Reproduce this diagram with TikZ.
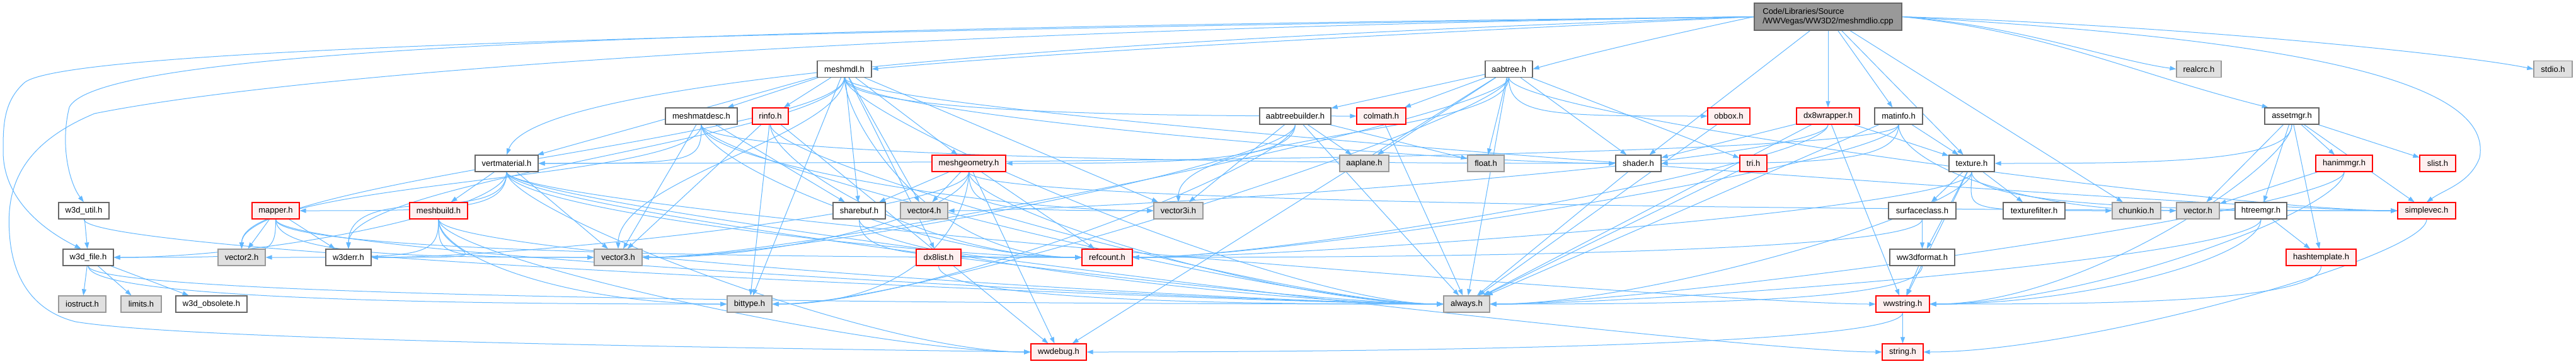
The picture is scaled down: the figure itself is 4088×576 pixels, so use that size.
\documentclass[tikz,border=0pt]{standalone}
\usepackage{fontspec}
\setmainfont{Liberation Sans}
\usetikzlibrary{arrows.meta}
\definecolor{edgec}{HTML}{63B8FF}
\definecolor{wb}{HTML}{666666}
\definecolor{gb}{HTML}{999999}
\definecolor{gf}{HTML}{E0E0E0}
\definecolor{rf}{HTML}{FFF0F0}
\definecolor{rootf}{HTML}{999999}
\pgfdeclarelayer{bg}\pgfsetlayers{bg,main}
\begin{document}
\begin{tikzpicture}[x=1pt,y=-1pt,
 nd/.style={rectangle, draw, minimum height=26pt, inner sep=0pt, line width=1.2pt, font=\fontsize{13}{15}\selectfont, text=black},
 wn/.style={nd, draw=wb, fill=white},
 rn/.style={nd, draw=red, fill=rf},
 gn/.style={nd, draw=gb, fill=gf},
 e/.style={draw=edgec, line width=1pt, -{Triangle[length=10pt,width=7pt]}}]
\useasboundingbox (0,0) rectangle (4088,576);
% root
\node[wn, fill=rootf, minimum width=234pt, minimum height=43pt, align=left] (root) at (2901,26.5) {Code/Libraries/Source\\/WWVegas/WW3D2/meshmdlio.cpp};
% row 1
\node[wn, minimum width=86pt] (meshmdl) at (1340,109.5) {meshmdl.h};
\node[wn, minimum width=75pt] (aabtree) at (2394.5,109.5) {aabtree.h};
\node[gn, minimum width=71pt] (realcrc) at (3489.5,109.5) {realcrc.h};
\node[gn, minimum width=61pt] (stdio) at (4051.5,109.5) {stdio.h};
% row 2
\node[wn, minimum width=114pt] (meshmatdesc) at (1113,184) {meshmatdesc.h};
\node[rn, minimum width=57pt] (rinfo) at (1222.5,184) {rinfo.h};
\node[wn, minimum width=113pt] (aabtreebuilder) at (2055.5,184) {aabtreebuilder.h};
\node[rn, minimum width=78pt] (colmath) at (2192,184) {colmath.h};
\node[rn, minimum width=67pt] (obbox) at (2743.5,184) {obbox.h};
\node[rn, minimum width=100pt] (dx8wrapper) at (2901,184) {dx8wrapper.h};
\node[wn, minimum width=76pt] (matinfo) at (3013,184) {matinfo.h};
\node[wn, minimum width=86pt] (assetmgr) at (3637,184) {assetmgr.h};
% row 3
\node[wn, minimum width=100pt] (vertmaterial) at (804,259) {vertmaterial.h};
\node[rn, minimum width=117pt] (meshgeometry) at (1537.5,259) {meshgeometry.h};
\node[gn, minimum width=78pt] (aaplane) at (2165,259) {aaplane.h};
\node[gn, minimum width=58pt] (float) at (2358,259) {float.h};
\node[wn, minimum width=72pt] (shader) at (2600,259) {shader.h};
\node[rn, minimum width=43pt] (tri) at (2782.5,259) {tri.h};
\node[wn, minimum width=72pt] (texture) at (3129,259) {texture.h};
\node[rn, minimum width=90pt] (hanimmgr) at (3720,259) {hanimmgr.h};
\node[rn, minimum width=57pt] (slist) at (3868.5,259) {slist.h};
% row 4
\node[wn, minimum width=80pt] (w3dutil) at (133,334) {w3d\_util.h};
\node[rn, minimum width=75pt] (mapper) at (437.5,334) {mapper.h};
\node[rn, minimum width=92pt] (meshbuild) at (696,334) {meshbuild.h};
\node[wn, minimum width=83pt] (sharebuf) at (1363.5,334) {sharebuf.h};
\node[gn, minimum width=75pt] (vector4) at (1466.5,334) {vector4.h};
\node[gn, minimum width=78pt] (vector3i) at (1870,334) {vector3i.h};
\node[wn, minimum width=107pt] (surfaceclass) at (3050.5,334) {surfaceclass.h};
\node[wn, minimum width=98pt] (texturefilter) at (3228,334) {texturefilter.h};
\node[gn, minimum width=77pt] (chunkio) at (3390.5,334) {chunkio.h};
\node[gn, minimum width=68pt] (vector) at (3488,334) {vector.h};
\node[wn, minimum width=82pt] (htreemgr) at (3588,334) {htreemgr.h};
\node[rn, minimum width=92pt] (simplevec) at (3851,334) {simplevec.h};
% row 5
\node[wn, minimum width=80pt] (w3dfile) at (140,408) {w3d\_file.h};
\node[gn, minimum width=75pt] (vector2) at (383.5,408) {vector2.h};
\node[wn, minimum width=72pt] (w3derr) at (553,408) {w3derr.h};
\node[gn, minimum width=76pt] (vector3) at (981,408) {vector3.h};
\node[rn, minimum width=71pt] (dx8list) at (1489.5,408) {dx8list.h};
\node[rn, minimum width=80pt] (refcount) at (1757,408) {refcount.h};
\node[wn, minimum width=103pt] (ww3dformat) at (3050.5,408) {ww3dformat.h};
\node[rn, minimum width=111pt] (hashtemplate) at (3683.5,408) {hashtemplate.h};
% row 6
\node[gn, minimum width=75pt] (iostruct) at (130.5,482) {iostruct.h};
\node[gn, minimum width=64pt] (limits) at (224,482) {limits.h};
\node[wn, minimum width=113pt] (w3dobs) at (335.5,482) {w3d\_obsolete.h};
\node[gn, minimum width=71pt] (bittype) at (1189.5,482) {bittype.h};
\node[gn, minimum width=73pt] (always) at (2327.5,482) {always.h};
\node[rn, minimum width=85pt] (wwstring) at (3019.5,482) {wwstring.h};
% row 7
\node[rn, minimum width=88pt] (wwdebug) at (1680,558) {wwdebug.h};
\node[rn, minimum width=65pt] (string) at (3019.5,558) {string.h};

\begin{pgfonlayer}{bg}
\fill[white] (0,0) rectangle (4088,576);
% straight connectors
\foreach \s/\t in {
 root/dx8wrapper, root/matinfo, root/texture, root/shader, root/chunkio,
 meshmdl/meshmatdesc, meshmdl/rinfo, meshmdl/vertmaterial, meshmdl/meshgeometry, meshmdl/sharebuf,
 meshmdl/vector4, meshmdl/vector3i, meshmdl/dx8list, meshmdl/bittype,
 meshmatdesc/sharebuf, meshmatdesc/vector3,
 rinfo/bittype, rinfo/wwdebug, rinfo/vector3,
 vertmaterial/meshbuild, vertmaterial/vector3,
 mapper/vector2, mapper/w3derr,
 w3dutil/w3dfile, w3dfile/iostruct, w3dfile/limits, w3dfile/w3dobs,
 meshgeometry/sharebuf, meshgeometry/vector4, meshgeometry/wwdebug, meshgeometry/refcount,
 colmath/always,
 aabtree/aabtreebuilder, aabtree/colmath, aabtree/aaplane, aabtree/float, aabtree/tri,
 aabtree/shader, aabtree/always, aabtree/wwdebug,
 aabtreebuilder/vector3i, aabtreebuilder/always, aabtreebuilder/aaplane, aabtreebuilder/float,
 obbox/always, tri/always, shader/always,
 dx8wrapper/texture, dx8wrapper/shader, dx8wrapper/wwstring, dx8wrapper/always,
 matinfo/texture, matinfo/always,
 texture/surfaceclass, texture/texturefilter, texture/ww3dformat, texture/wwstring,
 surfaceclass/ww3dformat, ww3dformat/wwstring, wwstring/string,
 assetmgr/vector, assetmgr/htreemgr, assetmgr/hanimmgr, assetmgr/slist,
 assetmgr/simplevec, assetmgr/hashtemplate,
 hanimmgr/vector, htreemgr/hashtemplate}
 \draw[e] (\s) -- (\t);
% target lies far to the right: leave downward, enter from the left side
\foreach \s/\t in {
 meshmdl/colmath, meshmdl/shader, meshmdl/always, meshmdl/simplevec, meshmdl/refcount,
 meshmatdesc/vector3i, meshmatdesc/shader, meshmatdesc/always, meshmatdesc/refcount,
 rinfo/always, rinfo/refcount,
 vertmaterial/refcount, vertmaterial/always, vertmaterial/wwstring, vertmaterial/wwdebug, vertmaterial/string,
 meshbuild/vector3, meshbuild/bittype, meshbuild/always, meshbuild/wwdebug,
 mapper/vector3, mapper/refcount, mapper/always,
 w3dutil/always, w3dfile/always, w3dfile/bittype,
 meshgeometry/always, meshgeometry/simplevec, meshgeometry/vector3i,
 sharebuf/refcount, sharebuf/always, dx8list/always,
 aabtree/obbox, aabtree/simplevec,
 matinfo/vector, texture/chunkio, texture/simplevec}
 \draw[e] (\s.south) .. controls +(0,60) and +(-250,0) .. (\t.west);
% target lies far to the left: leave downward, enter from the right side
\foreach \s/\t in {
 meshmatdesc/vertmaterial,
 vertmaterial/mapper, vertmaterial/w3dfile,
 meshbuild/vector2, meshbuild/w3derr,
 mapper/w3dfile,
 meshgeometry/vector3, meshgeometry/w3derr, meshgeometry/bittype,
 aabtree/vector3, aabtree/bittype,
 aabtreebuilder/vector3, aabtreebuilder/bittype, aabtreebuilder/meshgeometry,
 dx8wrapper/vector4, dx8wrapper/refcount,
 matinfo/shader, matinfo/vertmaterial, matinfo/refcount,
 texture/refcount, texture/always, surfaceclass/refcount, ww3dformat/always,
 wwstring/wwdebug, assetmgr/texture, assetmgr/wwstring,
 hanimmgr/wwstring, hanimmgr/always, htreemgr/wwstring, htreemgr/always,
 hashtemplate/wwstring, simplevec/string}
 \draw[e] (\s.south) .. controls +(0,60) and +(250,0) .. (\t.east);
% curved from above into the top
\foreach \s/\t in {
 meshmdl/vector2, meshmdl/w3derr, meshmdl/vector3,
 meshmatdesc/vector2, vertmaterial/w3derr, aabtree/vector3i}
 \draw[e] (\s.south) .. controls +(0,90) and +(0,-110) .. (\t.north);
% routed edges from the root
\draw[e] (root.west) .. controls (2300,50) and (1700,80) .. (meshmdl.east);
\draw[e] (root.west) .. controls (2650,55) and (2520,85) .. (aabtree.east);
\draw[e] (root.east) .. controls (3200,40) and (3350,95) .. (realcrc.west);
\draw[e] (root.east) .. controls (3450,40) and (3900,85) .. (stdio.west);
\draw[e] (root.east) .. controls (3250,50) and (3380,115) .. (assetmgr.160);
\draw[e] (root.east) .. controls (3600,60) and (3960,120) .. (3935,250) .. controls (3920,290) and (3880,300) .. (simplevec.north);
\draw[e] (root.west) .. controls (1800,60) and (850,120) .. (vertmaterial.north);
\draw[e] (root.west) .. controls (1200,45) and (160,70) .. (110,170) .. controls (95,230) and (110,290) .. (w3dutil.north);
\draw[e] (root.west) .. controls (1200,50) and (120,75) .. (40,130) .. controls (5,160) and (5,200) .. (5,240) .. controls (5,310) and (60,360) .. (w3dfile.130);
\draw[e] (root.west) .. controls (1500,45) and (500,110) .. (150,180) .. controls (30,230) and (10,300) .. (15,370) .. controls (20,450) and (60,495) .. (120,510) .. controls (300,540) and (1200,552) .. (wwdebug.west);
\end{pgfonlayer}
\end{tikzpicture}
\end{document}
